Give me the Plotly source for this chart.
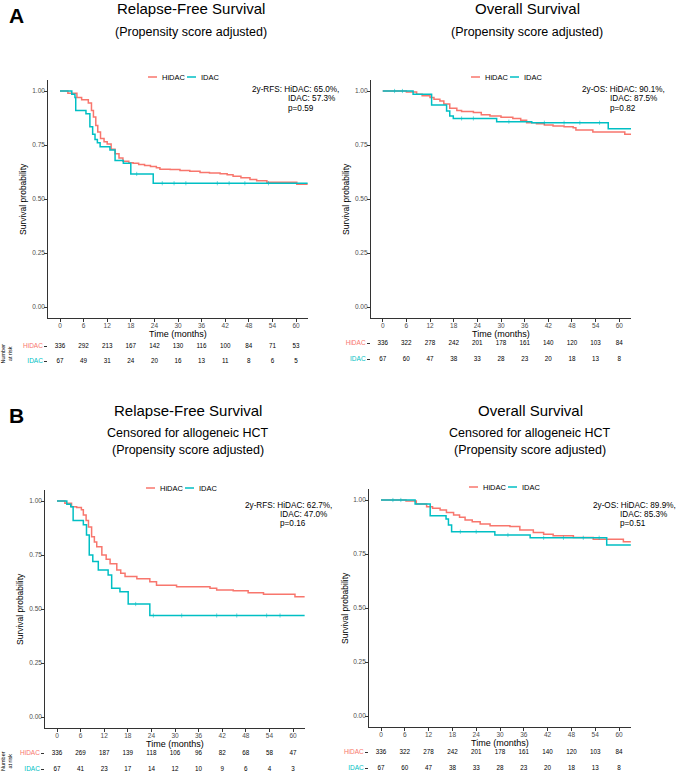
import plotly.graph_objects as go

W, H = 676, 775
RED = "#F8766D"
CYAN = "#00BFC4"
FONT = "Liberation Sans"
GROUPS = ["HiDAC", "IDAC"]

# ---------------- data ----------------
x_ticks = [0, 6, 12, 18, 24, 30, 36, 42, 48, 54, 60]
y_ticks = [0.0, 0.25, 0.5, 0.75, 1.0]
risk_times = [0, 6, 12, 18, 24, 30, 36, 42, 48, 54, 60]

# A: Relapse-free survival (propensity score adjusted)
a_rfs_hidac_t = [0, 2, 4.3, 5.5, 7.2, 8, 8.5, 9.1, 9.6, 10.3, 11.2, 12, 13, 14, 15, 16, 17.5, 18.6,
                 20, 21.5, 23, 24.5, 25.4, 28, 30.5, 33, 35.6, 38, 40.7, 42.5, 44, 46, 48.3, 50,
                 52.6, 60.2, 63]
a_rfs_hidac_s = [1, 0.99, 0.97, 0.96, 0.945, 0.91, 0.88, 0.84, 0.81, 0.78, 0.765, 0.755, 0.73, 0.71,
                 0.69, 0.675, 0.668, 0.665, 0.66, 0.655, 0.65, 0.645, 0.638, 0.636, 0.632, 0.628,
                 0.623, 0.62, 0.617, 0.612, 0.605, 0.598, 0.59, 0.585, 0.578, 0.568, 0.568]
a_rfs_idac_t = [0, 3, 3.8, 4, 6.6, 7.6, 8.3, 8.9, 9.5, 10.2, 12.7, 14, 16.1, 18, 23.7, 63]
a_rfs_idac_s = [1, 0.985, 0.97, 0.91, 0.895, 0.835, 0.8, 0.775, 0.76, 0.742, 0.727, 0.678, 0.665,
                0.616, 0.573, 0.573]
a_rfs_idac_censor = [19.5, 26, 29, 32, 40, 43, 47, 53]
a_rfs_hidac_risk = [336, 292, 213, 167, 142, 130, 116, 100, 84, 71, 53]
a_rfs_idac_risk = [67, 49, 31, 24, 20, 16, 13, 11, 8, 6, 5]

# A: Overall survival (propensity score adjusted)
a_os_hidac_t = [0, 6, 8.6, 10, 12, 13, 14.5, 15.5, 17, 18.8, 20, 23, 25, 27.2, 30, 33, 35, 36.5,
                39, 41, 43.2, 46, 48.3, 49, 53.3, 61.4, 63]
a_os_hidac_s = [1, 0.995, 0.985, 0.978, 0.97, 0.962, 0.954, 0.94, 0.92, 0.91, 0.905, 0.9, 0.89,
                0.884, 0.878, 0.873, 0.865, 0.853, 0.848, 0.843, 0.838, 0.834, 0.83, 0.82, 0.81,
                0.8, 0.8]
a_os_idac_t = [0, 7.7, 12.4, 16.2, 17, 17.9, 28.9, 37.8, 57.2, 63]
a_os_idac_s = [1, 0.985, 0.935, 0.907, 0.884, 0.873, 0.858, 0.853, 0.825, 0.825]
a_os_idac_censor = [3, 5, 20, 23, 32, 41, 46, 50, 55]
a_os_hidac_risk = [336, 322, 278, 242, 201, 178, 161, 140, 120, 103, 84]
a_os_idac_risk = [67, 60, 47, 38, 33, 28, 23, 20, 18, 13, 8]

# B: Relapse-free survival, censored for allogeneic HCT
b_rfs_hidac_t = [0, 2, 3.7, 5, 6.2, 6.7, 7.4, 8, 8.8, 9.5, 10.1, 11.4, 12.5, 13.5, 15.2, 16.2, 17.3,
                 20.3, 23.6, 25.3, 30.4, 38.9, 40.6, 44.8, 48.6, 52.5, 60.5, 63]
b_rfs_hidac_s = [1, 0.99, 0.973, 0.97, 0.96, 0.935, 0.91, 0.88, 0.835, 0.81, 0.788, 0.75, 0.73,
                 0.71, 0.68, 0.665, 0.65, 0.64, 0.626, 0.61, 0.603, 0.596, 0.588, 0.585, 0.575,
                 0.568, 0.557, 0.557]
b_rfs_idac_t = [0, 2.5, 3.5, 4.1, 6.7, 7.5, 8.2, 9.1, 10.5, 13, 13.9, 16, 18.1, 23.6, 63]
b_rfs_idac_s = [1, 0.985, 0.973, 0.91, 0.89, 0.843, 0.75, 0.72, 0.68, 0.657, 0.596, 0.58, 0.523,
                0.47, 0.47]
b_rfs_idac_censor = [20, 24.5, 31.7, 40.6, 45.7, 53.3, 56.7]
b_rfs_hidac_risk = [336, 269, 187, 139, 118, 106, 96, 82, 68, 58, 47]
b_rfs_idac_risk = [67, 41, 23, 17, 14, 12, 10, 9, 6, 4, 3]

# B: Overall survival, censored for allogeneic HCT
b_os_hidac_t = [0, 6.3, 8.9, 11.5, 13, 14.9, 16.5, 18.3, 19.8, 21.2, 23, 25, 27.5, 32.5, 35, 38.4,
                41, 43.4, 48.5, 53.5, 61.1, 63]
b_os_hidac_s = [1, 0.995, 0.981, 0.969, 0.962, 0.954, 0.942, 0.931, 0.92, 0.907, 0.899, 0.889,
                0.881, 0.877, 0.861, 0.85, 0.842, 0.835, 0.826, 0.818, 0.807, 0.807]
b_os_idac_t = [0, 8.6, 12.4, 16.4, 17, 17.8, 28.7, 37.6, 56.9, 63]
b_os_idac_s = [1, 0.981, 0.927, 0.912, 0.884, 0.853, 0.838, 0.825, 0.792, 0.792]
b_os_idac_censor = [3, 5, 20, 24, 32, 41, 46, 51, 55]
b_os_hidac_risk = [336, 322, 278, 242, 201, 178, 161, 140, 120, 103, 84]
b_os_idac_risk = [67, 60, 47, 38, 33, 28, 23, 20, 18, 13, 8]

titles = ["Relapse-Free Survival", "Overall Survival", "Relapse-Free Survival", "Overall Survival"]
subtitles = [["(Propensity score adjusted)"], ["(Propensity score adjusted)"],
             ["Censored for allogeneic HCT", "(Propensity score adjusted)"],
             ["Censored for allogeneic HCT", "(Propensity score adjusted)"]]
stat_lines = [["2y-RFS: HiDAC: 65.0%,", "IDAC: 57.3%", "p=0.59"],
              ["2y-OS: HiDAC: 90.1%,", "IDAC: 87.5%", "p=0.82"],
              ["2y-RFS: HiDAC: 62.7%,", "IDAC: 47.0%", "p=0.16"],
              ["2y-OS: HiDAC: 89.9%,", "IDAC: 85.3%", "p=0.51"]]

curves = [
    [(a_rfs_hidac_t, a_rfs_hidac_s), (a_rfs_idac_t, a_rfs_idac_s)],
    [(a_os_hidac_t, a_os_hidac_s), (a_os_idac_t, a_os_idac_s)],
    [(b_rfs_hidac_t, b_rfs_hidac_s), (b_rfs_idac_t, b_rfs_idac_s)],
    [(b_os_hidac_t, b_os_hidac_s), (b_os_idac_t, b_os_idac_s)],
]
censors = [a_rfs_idac_censor, a_os_idac_censor, b_rfs_idac_censor, b_os_idac_censor]
risks = [
    [a_rfs_hidac_risk, a_rfs_idac_risk],
    [a_os_hidac_risk, a_os_idac_risk],
    [b_rfs_hidac_risk, b_rfs_idac_risk],
    [b_os_hidac_risk, b_os_idac_risk],
]

# ---------------- layout geometry (pixels) ----------------
geo = [
    dict(x0=48.2, x1=307.8, y0=80.2, y1=317.8, rows=(346, 361), tcx=191, t_y=9, s_y=[32],
         leg=(182, 77), st=(250, 286, [90, 99, 108]), ytx=23, left=True),
    dict(x0=370.9, x1=631.1, y0=80.2, y1=317.8, rows=(343, 359), tcx=527, t_y=9, s_y=[32],
         leg=(505, 77), st=(580, 608, [90, 99, 108]), ytx=346, left=False),
    dict(x0=45.2, x1=304.8, y0=490.2, y1=727.8, rows=(753, 769), tcx=188, t_y=411, s_y=[433, 450],
         leg=(180, 488), st=(243, 278, [505, 514, 523]), ytx=20, left=True),
    dict(x0=369.1, x1=630.9, y0=489.2, y1=726.8, rows=(752, 768), tcx=530, t_y=411, s_y=[433, 450],
         leg=(503, 487), st=(591, 618, [505, 514, 523]), ytx=345, left=False),
]


def fx(p):
    return p / W


def fy(p):
    return 1 - p / H


def step_value(t_arr, s_arr, t):
    v = s_arr[0]
    for tt, ss in zip(t_arr, s_arr):
        if tt <= t:
            v = ss
    return v


fig = go.Figure()
layout = dict(width=W, height=H, margin=dict(l=0, r=0, t=0, b=0), plot_bgcolor="white",
              paper_bgcolor="white", font=dict(family=FONT, color="black"), showlegend=False)
annotations = []
shapes = []

for i, g in enumerate(geo):
    n = i + 1
    xa = "x" if n == 1 else f"x{n}"
    ya = "y" if n == 1 else f"y{n}"
    tn = n + 4
    for (t, s), name, col in zip(curves[i], GROUPS, [RED, CYAN]):
        fig.add_trace(go.Scatter(x=t, y=s, mode="lines", line=dict(color=col, width=1.5, shape="hv"),
                                 name=name, xaxis=xa, yaxis=ya, hoverinfo="skip"))
    it, isv = curves[i][1]
    fig.add_trace(go.Scatter(x=censors[i], y=[step_value(it, isv, c) for c in censors[i]],
                             mode="markers", marker=dict(symbol="line-ns", size=3,
                                                         line=dict(color=CYAN, width=0.8)),
                             opacity=0.7, xaxis=xa, yaxis=ya, hoverinfo="skip", showlegend=False))
    row_pos = {"HiDAC": 1, "IDAC": 0}
    for vals, name in zip(risks[i], GROUPS):
        fig.add_trace(go.Scatter(x=risk_times, y=[row_pos[name]] * len(risk_times), mode="text",
                                 text=[str(v) for v in vals], textfont=dict(size=6.3, color="black"),
                                 xaxis=f"x{tn}", yaxis=f"y{tn}", showlegend=False, cliponaxis=False,
                                 hoverinfo="skip"))

    xdom = [fx(g["x0"]), fx(g["x1"])]
    axis_common = dict(showgrid=False, zeroline=False, showline=True, linecolor="#333333",
                       linewidth=1, ticks="outside", ticklen=3, tickwidth=1, tickcolor="#333333",
                       tickfont=dict(size=6.5, color="#4D4D4D"), automargin=False)
    layout["xaxis" if n == 1 else f"xaxis{n}"] = dict(
        domain=xdom, range=[-3, 63], tickvals=x_ticks, anchor=ya, ticklabelstandoff=-2, **axis_common)
    layout["yaxis" if n == 1 else f"yaxis{n}"] = dict(
        domain=[fy(g["y1"]), fy(g["y0"])], range=[-0.05, 1.05], tickvals=y_ticks,
        tickformat=".2f", anchor=xa, ticklabelstandoff=-2, **axis_common)
    # risk table axes
    layout[f"xaxis{tn}"] = dict(domain=xdom, range=[-3, 63], visible=False, anchor=f"y{tn}")
    layout[f"yaxis{tn}"] = dict(
        domain=[fy(g["rows"][1]), fy(g["rows"][0])], range=[0, 1], anchor=f"x{tn}",
        showgrid=False, zeroline=False, showline=False, ticks="outside", ticklen=3,
        tickcolor="#333333", tickvals=[1, 0],
        ticktext=[f'<span style="color:{RED}">HiDAC</span>', f'<span style="color:{CYAN}">IDAC</span>'],
        tickfont=dict(size=6.5), automargin=False)
    # legend (keys drawn as short line segments + labels)
    lx, ly = g["leg"]
    for (k0, k1, tx, label, col) in [(lx - 34, lx - 25, lx - 22, "HiDAC", RED),
                                      (lx + 5, lx + 14, lx + 17, "IDAC", CYAN)]:
        shapes.append(dict(type="line", xref="paper", yref="paper", x0=fx(k0), x1=fx(k1),
                           y0=fy(ly), y1=fy(ly), line=dict(color=col, width=1.5)))
        annotations.append(dict(text=label, x=fx(tx), y=fy(ly), xref="paper", yref="paper",
                                showarrow=False, xanchor="left", yanchor="middle",
                                font=dict(size=7.5, color="black")))
    # titles
    annotations.append(dict(text=titles[i], x=fx(g["tcx"]), y=fy(g["t_y"]), xref="paper", yref="paper",
                            showarrow=False, xanchor="center", yanchor="middle",
                            font=dict(size=15, color="black")))
    for sub, sy in zip(subtitles[i], g["s_y"]):
        annotations.append(dict(text=sub, x=fx(g["tcx"]), y=fy(sy), xref="paper", yref="paper",
                                showarrow=False, xanchor="center", yanchor="middle",
                                font=dict(size=12.5, color="black")))
    # stats text
    sx1, sx2, sys_ = g["st"]
    for k, (line, sy) in enumerate(zip(stat_lines[i], sys_)):
        annotations.append(dict(text=line, x=fx(sx1 if k == 0 else sx2), y=fy(sy), xref="paper",
                                yref="paper", showarrow=False, xanchor="left", yanchor="middle",
                                font=dict(size=8.2, color="black")))
    # axis titles
    annotations.append(dict(text="Survival probability", x=fx(g["ytx"]), y=fy((g["y0"] + g["y1"]) / 2),
                            xref="paper", yref="paper", showarrow=False, textangle=-90,
                            xanchor="center", yanchor="middle", font=dict(size=8.5, color="black")))
    annotations.append(dict(text="Time (months)", x=fx((g["x0"] + g["x1"]) / 2), y=fy(g["y1"] + 16),
                            xref="paper", yref="paper", showarrow=False, xanchor="center",
                            yanchor="middle", font=dict(size=9, color="black")))
    if g["left"]:
        annotations.append(dict(text="Number<br>at risk", x=fx(6), y=fy((g["rows"][0] + g["rows"][1]) / 2),
                                xref="paper", yref="paper", showarrow=False, textangle=-90,
                                xanchor="center", yanchor="middle", font=dict(size=5.5, color="black")))

annotations.append(dict(text="<b>A</b>", x=fx(7), y=fy(15), xref="paper", yref="paper", showarrow=False,
                        xanchor="left", yanchor="middle", font=dict(size=21, color="black")))
annotations.append(dict(text="<b>B</b>", x=fx(7), y=fy(415), xref="paper", yref="paper", showarrow=False,
                        xanchor="left", yanchor="middle", font=dict(size=21, color="black")))

layout["annotations"] = annotations
layout["shapes"] = shapes
fig.update_layout(**layout)
fig.write_html("out.html", config={"displayModeBar": False},
               post_script="document.body.style.margin='0';document.body.style.overflow='hidden';")
